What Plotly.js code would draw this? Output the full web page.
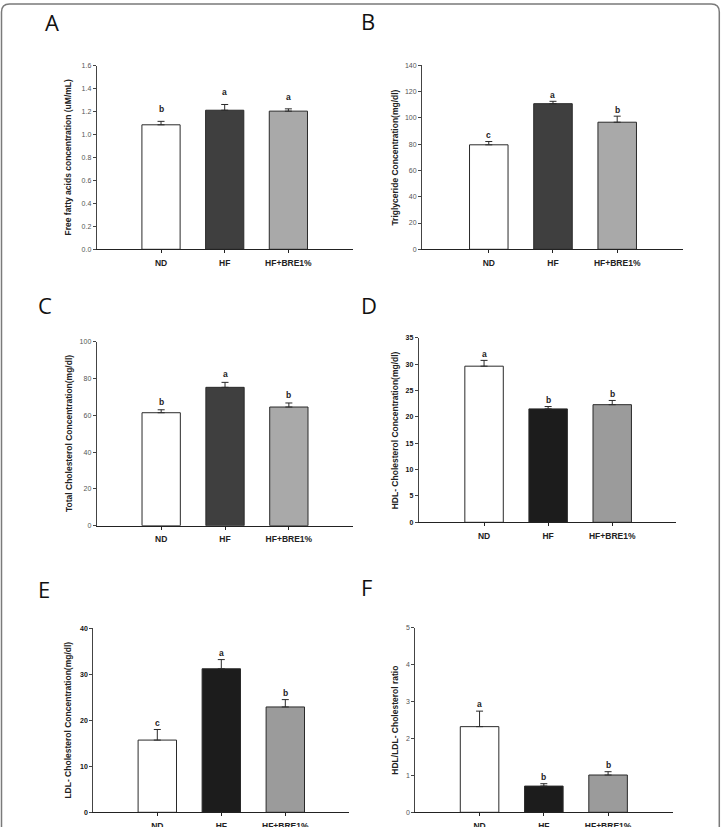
<!DOCTYPE html>
<html>
<head>
<meta charset="utf-8">
<script src="https://cdn.plot.ly/plotly-3.0.1.min.js"></script>
<style>
  html, body { margin: 0; padding: 0; background: #ffffff; }
  #chart { width: 723px; height: 827px; }
</style>
</head>
<body>
<div id="chart"></div>
<script>
// ---------------- data ----------------
const groups = ['ND', 'HF', 'HF+BRE1%'];

const ffaMean = [1.085, 1.212, 1.204];
const ffaErr = [0.03, 0.05, 0.02];
const ffaLetters = ['b', 'a', 'a'];

const tgMean = [79.5, 110.8, 96.7];
const tgErr = [2.5, 1.8, 4.6];
const tgLetters = ['c', 'a', 'b'];

const tcMean = [61.4, 75.2, 64.5];
const tcErr = [1.6, 2.7, 2.2];
const tcLetters = ['b', 'a', 'b'];

const hdlMean = [29.6, 21.5, 22.3];
const hdlErr = [1.1, 0.45, 0.8];
const hdlLetters = ['a', 'b', 'b'];

const ldlMean = [15.7, 31.2, 22.9];
const ldlErr = [2.3, 2.0, 1.6];
const ldlLetters = ['c', 'a', 'b'];

const ratioMean = [2.32, 0.71, 1.01];
const ratioErr = [0.42, 0.065, 0.09];
const ratioLetters = ['a', 'b', 'b'];

const panelLabels = ['A', 'B', 'C', 'D', 'E', 'F'];
const yTitles = [
  'Free fatty acids concentration (uM/mL)',
  'Triglyceride Concentration(mg/dl)',
  'Total Cholesterol Concentration(mg/dl)',
  'HDL- Cholesterol Concentration(mg/dl)',
  'LDL- Cholesterol Concentration(mg/dl)',
  'HDL/LDL- Cholesterol ratio'
];

// ---------------- layout helpers ----------------
const W = 723, H = 827;
const px = x => x / W;
const py = y => 1 - y / H;

const lightColors = ['#ffffff', '#3f3f3f', '#a9a9a9'];
const darkColors = ['#ffffff', '#1c1c1c', '#9b9b9b'];

const panels = [
  { mean: ffaMean, err: ffaErr, letters: ffaLetters, ymax: 1.6, dtick: 0.2, fmt: '.1f',
    x0: 96.7, x1: 352.7, yTop: 65.7, yBot: 249.3, colors: lightColors, bold: false, lshift: 12,
    titleX: 68, lab: [52, 22], xr: [-1.01, 3.01] },
  { mean: tgMean, err: tgErr, letters: tgLetters, ymax: 140, dtick: 20, fmt: '',
    x0: 422, x1: 682.7, yTop: 65.3, yBot: 249.3, colors: lightColors, bold: false, lshift: 6.5,
    titleX: 395.3, lab: [367.5, 21], xr: [-1.04, 3.02] },
  { mean: tcMean, err: tcErr, letters: tcLetters, ymax: 100, dtick: 20, fmt: '',
    x0: 96.7, x1: 352.7, yTop: 341.7, yBot: 525.7, colors: lightColors, bold: false, lshift: 8,
    titleX: 68.3, lab: [44.7, 305.5], xr: [-1.01, 3.0] },
  { mean: hdlMean, err: hdlErr, letters: hdlLetters, ymax: 35, dtick: 5, fmt: '',
    x0: 418.7, x1: 676.3, yTop: 337.7, yBot: 522.3, colors: darkColors, bold: true, lshift: 6.5,
    titleX: 395.3, lab: [369, 304.5], xr: [-1.02, 3.0] },
  { mean: ldlMean, err: ldlErr, letters: ldlLetters, ymax: 40, dtick: 10, fmt: '',
    x0: 93.3, x1: 349.3, yTop: 628.3, yBot: 812.3, colors: darkColors, bold: true, lshift: 7,
    titleX: 68.3, lab: [43.7, 588.7], xr: [-1.0, 3.0] },
  { mean: ratioMean, err: ratioErr, letters: ratioLetters, ymax: 5, dtick: 1, fmt: '',
    x0: 415.3, x1: 673, yTop: 627.7, yBot: 812.3, colors: darkColors, bold: false, lshift: 7,
    titleX: 394.7, lab: [366, 586.5], xr: [-1.0, 3.01] }
];

const data = [];
const layout = {
  width: W, height: H,
  margin: { l: 0, r: 0, t: 0, b: 0 },
  paper_bgcolor: '#ffffff',
  plot_bgcolor: 'rgba(0,0,0,0)',
  showlegend: false,
  font: { family: 'Liberation Sans, Arial, sans-serif', color: '#222' },
  annotations: [],
  shapes: []
};

panels.forEach((p, i) => {
  const n = i + 1;
  const xa = n === 1 ? 'x' : 'x' + n;
  const ya = n === 1 ? 'y' : 'y' + n;
  data.push({
    type: 'bar',
    x: groups,
    y: p.mean,
    xaxis: xa, yaxis: ya,
    width: 0.6,
    marker: { color: p.colors, line: { color: '#2a2a2a', width: 1 } },
    error_y: { type: 'data', symmetric: false, array: p.err, arrayminus: [0, 0, 0],
               color: '#2a2a2a', thickness: 1, width: 3.5 },
    hoverinfo: 'skip'
  });

  const tickFont = p.bold
    ? { family: 'Liberation Sans, Arial, sans-serif', size: 7, color: '#111', weight: 'bold' }
    : { family: 'Liberation Sans, Arial, sans-serif', size: 7, color: '#555' };

  layout['xaxis' + (n === 1 ? '' : n)] = {
    domain: [px(p.x0), px(p.x1)],
    anchor: ya,
    type: 'category',
    range: p.xr,
    showgrid: false, zeroline: false,
    showline: true, linecolor: '#222', linewidth: 1,
    ticks: 'outside', ticklen: 3, tickwidth: 1, tickcolor: '#222',
    ticklabelstandoff: 2,
    tickfont: { family: 'Liberation Sans, Arial, sans-serif', size: 8.5, color: '#222', weight: 'bold' },
    fixedrange: true
  };
  layout['yaxis' + (n === 1 ? '' : n)] = {
    domain: [py(p.yBot), py(p.yTop)],
    anchor: xa,
    range: [0, p.ymax],
    dtick: p.dtick, tick0: 0,
    tickformat: p.fmt,
    showgrid: false, zeroline: false,
    showline: true, linecolor: '#444', linewidth: 1,
    ticks: 'outside', ticklen: 3, tickwidth: 1, tickcolor: '#444',
    tickfont: tickFont,
    fixedrange: true
  };

  // y-axis title
  layout.annotations.push({
    xref: 'paper', yref: 'paper',
    x: px(p.titleX), y: py((p.yTop + p.yBot) / 2 + 0),
    text: '<b>' + yTitles[i] + '</b>',
    textangle: -90, showarrow: false,
    xanchor: 'center', yanchor: 'middle',
    font: { family: 'Liberation Sans, Arial, sans-serif', size: 8.5, color: '#222' }
  });

  // significance letters
  groups.forEach((g, k) => {
    layout.annotations.push({
      xref: xa, yref: ya,
      x: g, y: p.mean[k] + p.err[k],
      text: '<b>' + p.letters[k] + '</b>',
      showarrow: false, xanchor: 'center', yanchor: 'middle',
      yshift: p.lshift,
      font: { family: 'Liberation Sans, Arial, sans-serif', size: 8.5, color: '#222' }
    });
  });

  // panel letter
  layout.annotations.push({
    xref: 'paper', yref: 'paper',
    x: px(p.lab[0]), y: py(p.lab[1]),
    text: panelLabels[i],
    showarrow: false, xanchor: 'center', yanchor: 'middle',
    font: { family: 'Open Sans, Noto Sans, sans-serif', size: 22, color: '#111' }
  });
});

// outer rounded frame (extends past the bottom edge, as in the reference)
(function () {
  const xl = 1.5, xr = 719.3, yt = 4, yb = 840, r = 8;
  const P = (x, y) => px(x) + ',' + py(y);
  const path = 'M ' + P(xl, yb) + ' L ' + P(xl, yt + r) + ' Q ' + P(xl, yt) + ' ' + P(xl + r, yt) +
               ' L ' + P(xr - r, yt) + ' Q ' + P(xr, yt) + ' ' + P(xr, yt + r) + ' L ' + P(xr, yb);
  layout.shapes.push({
    type: 'path', xref: 'paper', yref: 'paper', path: path,
    line: { color: '#7a7a7a', width: 1.5 }
  });
})();

Plotly.newPlot('chart', data, layout, { displayModeBar: false, staticPlot: true });
</script>
</body>
</html>
